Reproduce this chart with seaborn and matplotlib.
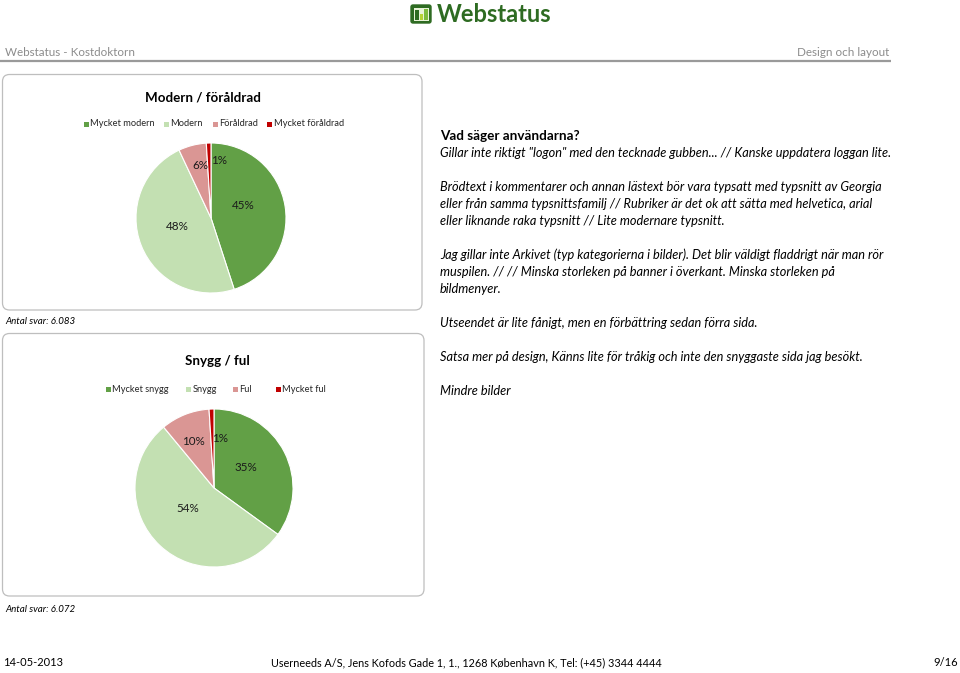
import numpy as np
import matplotlib
matplotlib.use("Agg")
import matplotlib.pyplot as plt
import seaborn as sns
from matplotlib.patches import FancyBboxPatch, Rectangle

# ---------------- data ----------------
chart1_title = "Modern / föråldrad"
chart1_labels = ["Mycket modern", "Modern", "Föråldrad", "Mycket föråldrad"]
chart1_values = [45, 48, 6, 1]
chart1_count = "Antal svar: 6.083"

chart2_title = "Snygg / ful"
chart2_labels = ["Mycket snygg", "Snygg", "Ful", "Mycket ful"]
chart2_values = [35, 54, 10, 1]
chart2_count = "Antal svar: 6.072"

comments_heading = "Vad säger användarna?"
comments = [
    'Gillar inte riktigt "logon" med den tecknade gubben... // Kanske uppdatera loggan lite.',
    "",
    "Brödtext i kommentarer och annan lästext bör vara typsatt med typsnitt av Georgia",
    "eller från samma typsnittsfamilj // Rubriker är det ok att sätta med helvetica, arial",
    "eller liknande raka typsnitt // Lite modernare typsnitt.",
    "",
    "Jag gillar inte Arkivet (typ kategorierna i bilder). Det blir väldigt fladdrigt när man rör",
    "muspilen. // // Minska storleken på banner i överkant. Minska storleken på",
    "bildmenyer.",
    "",
    "Utseendet är lite fånigt, men en förbättring sedan förra sida.",
    "",
    "Satsa mer på design, Känns lite för tråkig och inte den snyggaste sida jag besökt.",
    "",
    "Mindre bilder",
]

header_left = "Webstatus - Kostdoktorn"
header_right = "Design och layout"
footer_left = "14-05-2013"
footer_center = "Userneeds A/S, Jens Kofods Gade 1, 1., 1268 København K, Tel: (+45) 3344 4444"
footer_right = "9/16"
logo_text = "Webstatus"

# ---------------- style ----------------
sns.set_theme(style="white")
plt.rcParams["font.family"] = ["Lato", "DejaVu Sans"]
palette = sns.color_palette(["#62A046", "#C3E0B2", "#DA9694", "#C00000"])

W, H = 960, 673
fig = plt.figure(figsize=(W / 100, H / 100), dpi=100)
fig.patch.set_facecolor("white")

# overlay axes in pixel coordinates
ov = fig.add_axes([0, 0, 1, 1])
ov.set_xlim(0, W)
ov.set_ylim(H, 0)
ov.axis("off")

# ---- logo ----
ov.add_patch(FancyBboxPatch((411, 5), 20, 18, boxstyle="round,pad=0,rounding_size=2",
                            facecolor="#2E6B22", edgecolor="#2E6B22", lw=1))
ov.add_patch(Rectangle((413.5, 7.5), 15, 13, facecolor="#E8F3D8", edgecolor="none"))
ov.add_patch(Rectangle((414.5, 10), 4, 10, facecolor="#2E6B22", edgecolor="none"))
ov.add_patch(Rectangle((419.5, 14), 3.5, 6, facecolor="#B5D334", edgecolor="none"))
ov.add_patch(Rectangle((424, 9), 4, 11, facecolor="#7DBB3C", edgecolor="none"))
ov.text(437, 14.5, logo_text, fontsize=17, fontweight="bold", color="#2E6B22",
        va="center", ha="left")

# ---- header ----
ov.text(5, 52, header_left, fontsize=8.4, color="#8C8C8C", va="center", ha="left")
ov.text(889, 52, header_right, fontsize=8.4, color="#8C8C8C", va="center", ha="right")
ov.plot([0, 891], [60.5, 60.5], color="#9A9A9A", lw=1.6, solid_capstyle="butt")

# ---- chart boxes ----
for (x0, y0, x1, y1) in [(2.5, 74.5, 422, 310), (2.5, 333.5, 424, 596)]:
    ov.add_patch(FancyBboxPatch((x0, y0), x1 - x0, y1 - y0,
                                boxstyle="round,pad=0,rounding_size=7",
                                facecolor="white", edgecolor="#BEBEBE", lw=0.9))


def draw_pie(cx, cy, r, values, label_pos, title, title_xy, labels, leg_sq, leg_y,
             count_text, count_y):
    ax = fig.add_axes([(cx - r) / W, (H - cy - r) / H, 2 * r / W, 2 * r / H])
    wedges, _ = ax.pie(values, colors=palette, startangle=90, counterclock=False,
                       radius=1.0, wedgeprops=dict(linewidth=0.8, edgecolor="white"))
    ax.set_xlim(-1, 1)
    ax.set_ylim(-1, 1)
    ax.set_aspect("equal")
    ax.axis("off")
    for w, v, (dist, dang) in zip(wedges, values, label_pos):
        mid = np.deg2rad((w.theta1 + w.theta2) / 2 + dang)
        ax.text(dist * np.cos(mid), dist * np.sin(mid), f"{v}%", ha="center",
                va="center", fontsize=8.4, color="#1a1a1a")
    ov.text(title_xy[0], title_xy[1], title, fontsize=9.6, fontweight="bold",
            ha="center", va="center", color="black")
    for c, lab, sx in zip(palette, labels, leg_sq):
        ov.add_patch(Rectangle((sx, leg_y - 2.5), 5, 5, facecolor=c, edgecolor="none"))
        ov.text(sx + 6.5, leg_y, lab, fontsize=6.7, ha="left", va="center", color="#262626")
    ov.text(5, count_y, count_text, fontsize=7.0, style="italic", ha="left",
            va="center", color="black")


draw_pie(211, 218, 75, chart1_values,
         [(0.46, 13), (0.47, -7), (0.71, -2.5), (0.77, -10)],
         chart1_title, (203, 97), chart1_labels, [84, 164, 213, 267], 124,
         chart1_count, 321)

draw_pie(214, 488, 79, chart2_values,
         [(0.48, 5), (0.42, -8), (0.65, 2.5), (0.63, -9)],
         chart2_title, (217, 361), chart2_labels, [106, 186, 233, 276], 389,
         chart2_count, 609)

# ---- comments ----
ov.text(440, 136, comments_heading, fontsize=9.7, fontweight="bold", ha="left",
        va="center", color="black")
y = 153
for line in comments:
    if line:
        ov.text(440, y, line, fontsize=9.2, style="italic", ha="left", va="center",
                color="black")
    y += 17

# ---- footer ----
ov.text(3, 663, footer_left, fontsize=8.0, ha="left", va="center", color="black")
ov.text(466, 663, footer_center, fontsize=7.8, ha="center", va="center", color="black")
ov.text(958, 663, footer_right, fontsize=8.0, ha="right", va="center", color="black")

fig.savefig("out.png", dpi=100, facecolor="white")
